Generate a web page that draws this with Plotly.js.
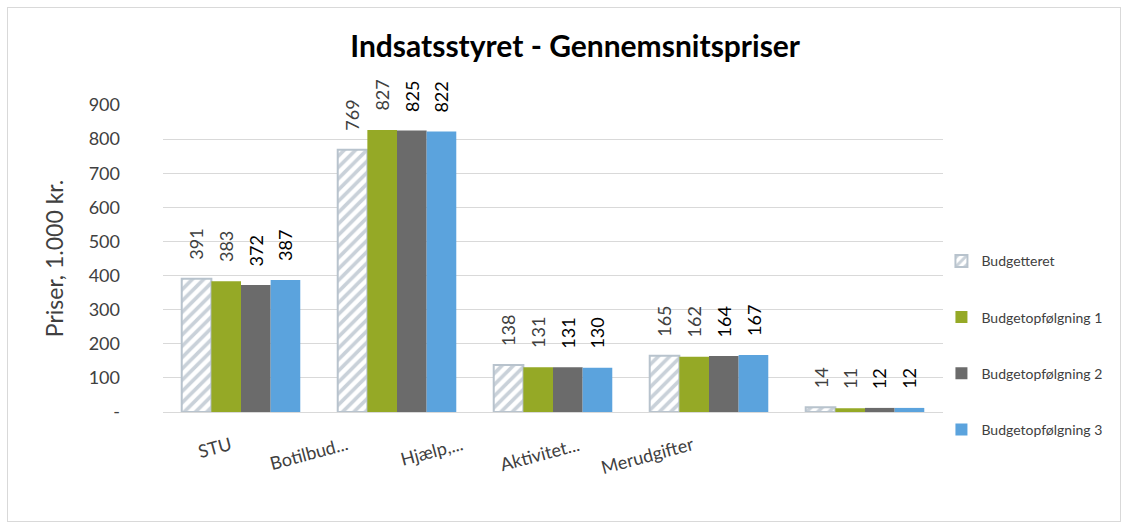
<!DOCTYPE html>
<html>
<head>
<meta charset="utf-8">
<script src="https://cdn.plot.ly/plotly-3.0.1.min.js"></script>
<style>
  html, body { margin: 0; padding: 0; background: #fff; }
  #wrap { position: relative; width: 1130px; height: 531px; }
  #frame { position: absolute; left: 7px; top: 7px; width: 1114px; height: 515px; border: 1px solid #d9d9d9; box-sizing: border-box; pointer-events: none; }
  #chart { position: absolute; left: 0; top: 0; width: 1130px; height: 531px; }
</style>
</head>
<body>
<div id="wrap">
  <div id="chart"></div>
  <div id="frame"></div>
</div>
<script>
const categories = ["STU", "Botilbud...", "Hjælp,...", "Aktivitet...", "Merudgifter"];
const seriesNames = ["Budgetteret", "Budgetopfølgning 1", "Budgetopfølgning 2", "Budgetopfølgning 3"];
const budgetteret = [391, 769, 138, 165, 14];
const opf1 = [383, 827, 131, 162, 11];
const opf2 = [372, 825, 131, 164, 12];
const opf3 = [387, 822, 130, 167, 12];
const yTickVals = [0, 100, 200, 300, 400, 500, 600, 700, 800, 900];
const yTickText = ["-", "100", "200", "300", "400", "500", "600", "700", "800", "900"];

const FONT = "Lato, 'Open Sans', sans-serif";
const seriesValues = [budgetteret, opf1, opf2, opf3];
const colors = ["#ffffff", "#95a926", "#6b6b6b", "#5ba3dd"];
const labelColors = ["#404040", "#404040", "#000000", "#000000"];

const M = { l: 163, r: 187, t: 105, b: 119 };
const W = 1130, H = 531;
const BARGAP = 0.24;
const plotW = W - M.l - M.r;
const barPx = plotW / categories.length * (1 - BARGAP) / seriesValues.length;

const traces = seriesValues.map((vals, i) => {
  const marker = { color: colors[i], line: { width: 0 } };
  if (i === 0) {
    marker.pattern = { shape: "/", fgcolor: "#c9d1d9", bgcolor: "#ffffff", size: 8, solidity: 0.45 };
    marker.line = { color: "#b8c3cd", width: 2 };
  }
  return {
    type: "bar",
    name: seriesNames[i],
    x: categories,
    y: vals,
    marker: marker,
    legendgroup: "g" + i,
    hoverinfo: "x+y+name"
  };
});

// value labels (rotated, above each bar) placed through the axis scales
const valueLabels = [];
seriesValues.forEach((vals, i) => {
  vals.forEach((v, j) => {
    valueLabels.push({
      x: categories[j], y: v, xref: "x", yref: "y",
      text: String(v), showarrow: false, textangle: -90,
      xanchor: "center", yanchor: "bottom",
      xshift: (i - (seriesValues.length - 1) / 2) * barPx, yshift: 17,
      font: { family: FONT, size: 18, color: labelColors[i] }
    });
  });
});

// category labels (Excel-style placement of rotated labels)
const labelShift = [-4, -44, -85, -125, -166];
const catLabels = categories.map((c, i) => ({
  x: c, y: 0, xref: "x", yref: "y",
  text: c, showarrow: false, textangle: -15,
  xanchor: "right", yanchor: "top",
  xshift: labelShift[i], yshift: -18,
  font: { family: FONT, size: 18, color: "#404040" }
}));

const layout = {
  width: W, height: H,
  paper_bgcolor: "rgba(0,0,0,0)", plot_bgcolor: "#ffffff",
  margin: M,
  title: { text: "<b>Indsatsstyret - Gennemsnitspriser</b>", x: 0.509, xanchor: "center", y: 0.912, yanchor: "middle",
           font: { family: FONT, size: 30, color: "#000000" } },
  barmode: "group", bargap: BARGAP, bargroupgap: 0,
  xaxis: { showticklabels: false, showgrid: false, zeroline: false, showline: true, linecolor: "#d9d9d9", linewidth: 1, ticks: "" },
  yaxis: { range: [0, 900], tickvals: yTickVals, ticktext: yTickText, showgrid: true, gridcolor: "#d9d9d9", gridwidth: 1,
           zeroline: true, zerolinecolor: "#d9d9d9", showline: false, ticks: "", ticklabelstandoff: 42,
           tickfont: { family: FONT, size: 18, color: "#404040" },
           title: { text: "Priser, 1.000 kr.", font: { family: FONT, size: 23, color: "#404040" }, standoff: 18 },
           automargin: false },
  legend: { x: 0.998, xanchor: "left", y: 0.543, yanchor: "top", tracegroupgap: 35,
            font: { family: FONT, size: 14, color: "#404040" }, bgcolor: "rgba(0,0,0,0)", itemwidth: 30 },
  annotations: valueLabels.concat(catLabels),
  showlegend: true
};

Plotly.newPlot("chart", traces, layout, { displayModeBar: false, staticPlot: true });
</script>
</body>
</html>
